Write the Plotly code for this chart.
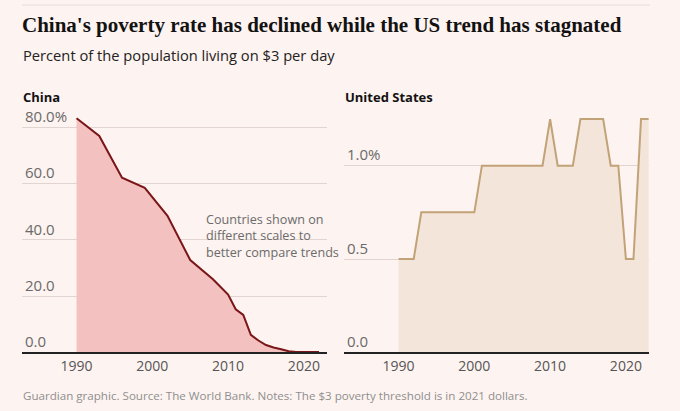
import plotly.graph_objects as go

# ---- data ----
china_years = [1990, 1993, 1996, 1999, 2002, 2005, 2008, 2010, 2011, 2012, 2013, 2014, 2015,
               2016, 2017, 2018, 2019, 2020, 2021, 2022]
china_rate = [83.2, 76.9, 62.1, 58.5, 48.5, 32.8, 26.0, 20.5, 15.3, 13.3, 6.2, 4.2, 2.6,
              1.7, 1.1, 0.4, 0.1, 0.1, 0.1, 0.1]

us_years = list(range(1990, 2024))
us_rate = [0.5, 0.5, 0.5, 0.75, 0.75, 0.75, 0.75, 0.75, 0.75, 0.75, 0.75,
           1.0, 1.0, 1.0, 1.0, 1.0, 1.0, 1.0, 1.0, 1.0, 1.25,
           1.0, 1.0, 1.0, 1.25, 1.25, 1.25, 1.25, 1.0, 1.0, 0.5, 0.5, 1.25, 1.25]

x_ticks = [1990, 2000, 2010, 2020]
china_ticks = [0, 20, 40, 60, 80]
china_ticktext = ["0.0", "20.0", "40.0", "60.0", "80.0%"]
us_ticks = [0, 0.5, 1.0]
us_ticktext = ["0.0", "0.5", "1.0%"]

title = "China's poverty rate has declined while the US trend has stagnated"
subtitle = "Percent of the population living on $3 per day"
note = "Countries shown on<br>different scales to<br>better compare trends"
footer = "Guardian graphic. Source: The World Bank. Notes: The $3 poverty threshold is in 2021 dollars."

BG = "#fdf3f0"
W, H = 680, 411
SANS = "Open Sans, Noto Sans, sans-serif"

fig = go.Figure()
fig.add_trace(go.Scatter(x=china_years, y=china_rate, mode="lines", fill="tozeroy",
                         line=dict(color="#7a1518", width=2), fillcolor="#f2c1c0",
                         xaxis="x", yaxis="y", hoverinfo="skip"))
fig.add_trace(go.Scatter(x=us_years, y=us_rate, mode="lines", fill="tozeroy",
                         line=dict(color="#c2a277", width=2), fillcolor="#f4e5da",
                         xaxis="x2", yaxis="y2", hoverinfo="skip"))

def px_x(p):
    return p / W

def px_y(p):
    return 1 - p / H

TOP = 98
ydom = [px_y(352.3), px_y(TOP)]
xrange = [1982.8, 2023.05]
grid = "#e2d5d1"
xtickfont = dict(family=SANS, size=14, color="#555555")
ytickfont = dict(family=SANS, size=15, color="#6a6a6a")

common_x = dict(range=xrange, tickvals=x_ticks, showgrid=False, zeroline=False,
                showline=True, linecolor="#222222", linewidth=1.5, ticks="",
                tickfont=xtickfont, fixedrange=True)
fig.update_layout(
    width=W, height=H, margin=dict(l=0, r=0, t=0, b=0),
    paper_bgcolor=BG, plot_bgcolor=BG, showlegend=False,
    xaxis=dict(domain=[px_x(22), px_x(327)], anchor="y", **common_x),
    xaxis2=dict(domain=[px_x(344), px_x(649)], anchor="y2", **common_x),
    yaxis=dict(domain=ydom, range=[0, (352.3 - TOP) / 2.8125], tickvals=china_ticks,
               ticktext=china_ticktext, ticklabelposition="inside top", showgrid=True,
               gridcolor=grid, gridwidth=1, zeroline=False, tickfont=ytickfont,
               anchor="x", fixedrange=True, layer="above traces"),
    yaxis2=dict(domain=ydom, range=[0, (352.3 - TOP) / 186.6], tickvals=us_ticks,
                ticktext=us_ticktext, ticklabelposition="inside top", showgrid=True,
                gridcolor=grid, gridwidth=1, zeroline=False, tickfont=ytickfont,
                anchor="x2", fixedrange=True, layer="above traces"),
)

fig.add_shape(type="line", xref="paper", yref="paper", x0=px_x(22), x1=px_x(650),
              y0=px_y(5), y1=px_y(5), line=dict(color="#e6dcd8", width=1))

anns = [
    dict(text=title, x=px_x(20), y=px_y(25), font=dict(family="Liberation Serif, serif",
         size=21, color="#121212", weight=600)),
    dict(text=subtitle, x=px_x(21), y=px_y(55), font=dict(family=SANS, size=14.7, color="#222222")),
    dict(text="<b>China</b>", x=px_x(21), y=px_y(97), font=dict(family=SANS, size=13, color="#121212")),
    dict(text="<b>United States</b>", x=px_x(343), y=px_y(97), font=dict(family=SANS, size=13, color="#121212")),
    dict(text=note, x=px_x(204), y=px_y(236), align="left",
         font=dict(family=SANS, size=12.6, color="#6b6b6b")),
    dict(text=footer, x=px_x(21), y=px_y(395), font=dict(family=SANS, size=11.6, color="#8f8f8f")),
]
for a in anns:
    fig.add_annotation(xref="paper", yref="paper", xanchor="left", yanchor="middle",
                       showarrow=False, **a)

fig.write_html("out.html")
